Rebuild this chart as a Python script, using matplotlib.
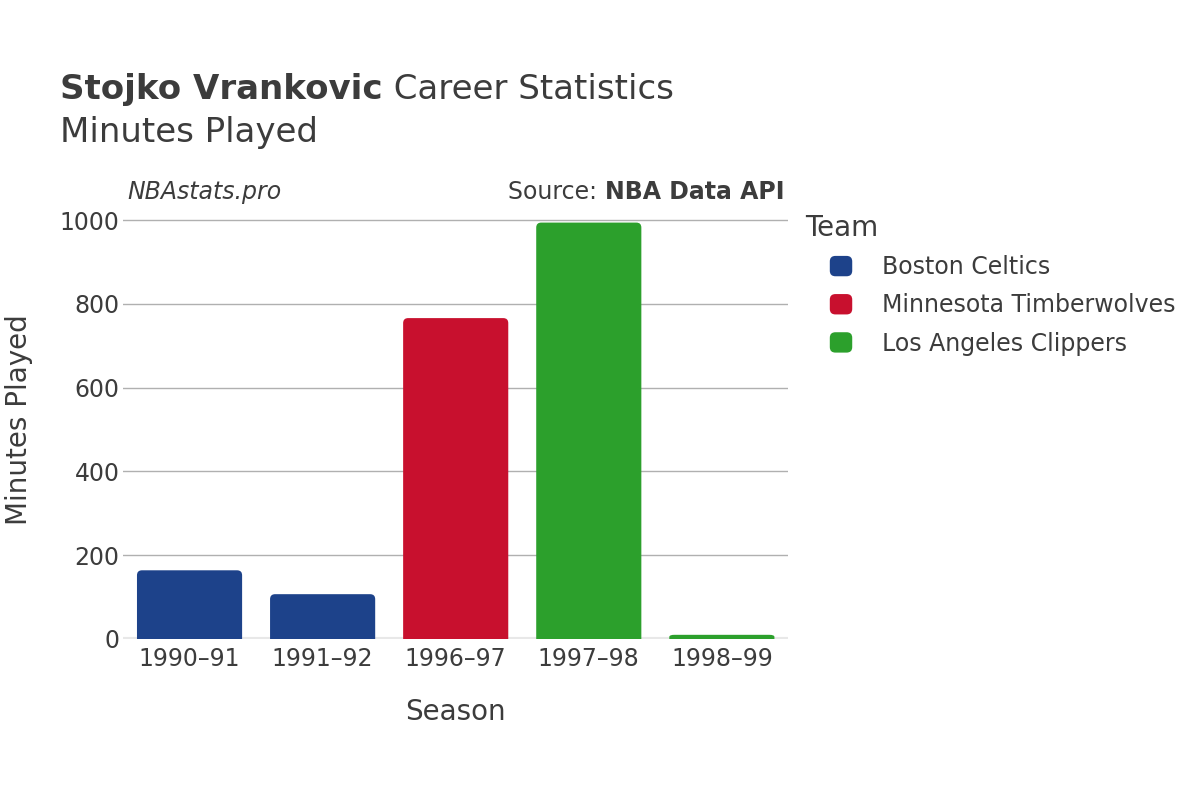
import matplotlib
matplotlib.use("Agg")
import matplotlib.pyplot as plt
from matplotlib.patches import FancyBboxPatch, PathPatch, Patch
from matplotlib.path import Path
from matplotlib.legend_handler import HandlerPatch

plt.rcParams['font.family'] = ['DejaVu Sans']

seasons = ["1990\u201391", "1991\u201392", "1996\u201397", "1997\u201398", "1998\u201399"]
minutes = [164, 107, 766, 994, 10]
teams = ["Boston Celtics", "Boston Celtics", "Minnesota Timberwolves",
         "Los Angeles Clippers", "Los Angeles Clippers"]
team_order = ["Boston Celtics", "Minnesota Timberwolves", "Los Angeles Clippers"]
team_colors = {"Boston Celtics": "#1d428a",
               "Minnesota Timberwolves": "#c8102e",
               "Los Angeles Clippers": "#2ca02c"}
yticks = [0, 200, 400, 600, 800, 1000]

text_col = "#3c3c3c"


def rounded_top(x0, y0, w, h, rx, ry):
    # bar path with the two top corners rounded
    x1, y1 = x0 + w, y0 + h
    ry = min(ry, h / 2)
    verts = [(x0, y0), (x1, y0), (x1, y1 - ry), (x1, y1), (x1 - rx, y1),
             (x0 + rx, y1), (x0, y1), (x0, y1 - ry), (x0, y0)]
    codes = [Path.MOVETO, Path.LINETO, Path.LINETO, Path.CURVE3, Path.CURVE3,
             Path.LINETO, Path.CURVE3, Path.CURVE3, Path.CLOSEPOLY]
    return Path(verts, codes)


class RoundHandler(HandlerPatch):
    def create_artists(self, legend, orig_handle, xdescent, ydescent,
                       width, height, fontsize, trans):
        p = FancyBboxPatch((-xdescent, -ydescent), width, height,
                           boxstyle="round,pad=0,rounding_size=4",
                           facecolor=orig_handle.get_facecolor(),
                           edgecolor='none', transform=trans)
        return [p]


fig = plt.figure(figsize=(12, 8), dpi=100)
ax = fig.add_axes([0.1025, 0.20125, 0.5545, 0.54775])

x = list(range(len(seasons)))
bars = ax.bar(x, minutes, width=0.79, color=[team_colors[t] for t in teams], zorder=3)

ax.set_xlim(-0.5, len(seasons) - 0.5)
ax.set_ylim(0, 1046)

# swap plain bars for ones with rounded top corners
fig.canvas.draw()
px_per_x = ax.bbox.width / (ax.get_xlim()[1] - ax.get_xlim()[0])
px_per_y = ax.bbox.height / (ax.get_ylim()[1] - ax.get_ylim()[0])
r_px = 5
for b in bars:
    b.set_visible(False)
    path = rounded_top(b.get_x(), b.get_y(), b.get_width(), b.get_height(),
                       r_px / px_per_x, r_px / px_per_y)
    ax.add_patch(PathPatch(path, facecolor=b.get_facecolor(), edgecolor='none',
                           zorder=3))

ax.set_yticks(yticks)
ax.set_xticks(x)
ax.set_xticklabels(seasons)
ax.tick_params(axis='x', length=0, labelsize=17, colors=text_col, pad=6)
ax.tick_params(axis='y', length=0, labelsize=17, colors=text_col, pad=2.5)
ax.grid(axis='y', color="#b0b0b0", linewidth=1, zorder=0)
ax.axhline(0, color="#e8e8e8", linewidth=3, zorder=2)
for s in ax.spines.values():
    s.set_visible(False)

ax.set_xlabel("Season", fontsize=20, color=text_col, labelpad=19)
fig.text(0.016, 0.476, "Minutes Played", rotation=90, fontsize=20,
         color=text_col, ha='center', va='center')

t1 = fig.text(0.05, 0.888, "Stojko Vrankovic", fontsize=24.5, fontweight='bold',
              color=text_col, va='center')
fig.canvas.draw()
bb = t1.get_window_extent()
fig.text(bb.x1 / fig.bbox.width, 0.888, " Career Statistics", fontsize=24.5,
         color=text_col, va='center')
fig.text(0.05, 0.834, "Minutes Played", fontsize=24.5, color=text_col, va='center')

fig.text(0.106, 0.760, "NBAstats.pro", fontsize=17, style='italic',
         color=text_col, va='center')
src = fig.text(0.6535, 0.760, "NBA Data API", fontsize=17, fontweight='bold',
               color=text_col, va='center', ha='right')
fig.canvas.draw()
bb = src.get_window_extent()
fig.text(bb.x0 / fig.bbox.width, 0.760, "Source: ", fontsize=17, color=text_col,
         va='center', ha='right')

fig.text(0.671, 0.715, "Team", fontsize=20, color=text_col, va='center')
handles = [Patch(facecolor=team_colors[t], edgecolor='none') for t in team_order]
leg = fig.legend(handles, team_order, loc='upper left', bbox_to_anchor=(0.6915, 0.681),
                 frameon=False, fontsize=17, handlelength=0.95, handleheight=0.95,
                 handletextpad=1.25, labelspacing=0.6, borderpad=0, borderaxespad=0,
                 handler_map={Patch: RoundHandler()})
for t in leg.get_texts():
    t.set_color(text_col)

fig.savefig("out.png", dpi=100, facecolor="white")
